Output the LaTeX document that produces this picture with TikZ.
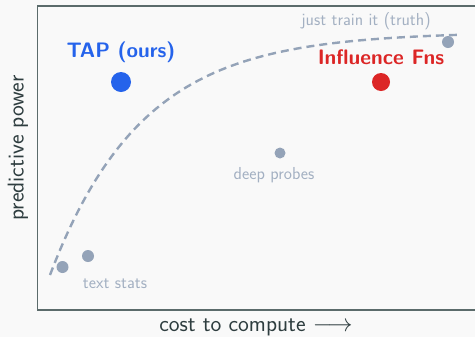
\documentclass[tikz,border=0pt]{standalone}
\usepackage{fontspec}
\usetikzlibrary{positioning}
\definecolor{bgcol}{HTML}{F9F9F9}
\definecolor{framecol}{HTML}{5B6B6B}
\definecolor{axiscol}{HTML}{2E3D3F}
\definecolor{dotgray}{HTML}{94A3B8}
\definecolor{labgray}{HTML}{A3B0C2}
\definecolor{tapblue}{HTML}{2563EB}
\definecolor{ifred}{HTML}{DC2626}
\tikzset{
  dot/.style={circle, inner sep=0pt, outer sep=0pt},
  graylabel/.style={text=labgray, font=\sffamily\fontsize{17.4}{20}\selectfont, inner sep=0pt},
  biglabel/.style={font=\sffamily\bfseries\fontsize{21}{24}\selectfont, inner sep=0pt},
  axislabel/.style={text=axiscol, font=\sffamily\fontsize{23}{26}\selectfont, inner sep=0pt},
}
\begin{document}
\begin{tikzpicture}[x=1bp, y=-1bp]
  % canvas
  \fill[bgcol] (0,0) rectangle (475,337);
  \useasboundingbox (0,0) rectangle (475,337);

  % plot frame (open on the right)
  \draw[framecol, line width=1.4bp] (475,6) -- (37.3,6) -- (37.3,310) -- (475,310);

  % saturating "cost vs. power" trend
  \draw[dotgray, line width=2.4bp, dash pattern=on 8bp off 5bp]
    plot[domain=50:457, samples=120, smooth] (\x, {32 + 243*exp(-(\x-50)/92)});

  % methods
  \node[dot, fill=tapblue, minimum size=20bp] (tap) at (121,82) {};
  \node[biglabel, text=tapblue] (taplab) at (121,52) {TAP (ours)};

  \node[dot, fill=ifred, minimum size=18bp] (inf) at (381,82) {};
  \node[biglabel, text=ifred] (inflab) at (381,57) {Influence Fns};

  \node[dot, fill=dotgray, minimum size=12bp] (truth) at (448,42) {};
  \node[graylabel] (truthlab) at (366,21) {just train it (truth)};

  \node[dot, fill=dotgray, minimum size=11bp] (deep) at (280,153) {};
  \node[graylabel] (deeplab) at (274,175) {deep probes};

  \node[dot, fill=dotgray, minimum size=12bp] (ts1) at (62.5,267) {};
  \node[dot, fill=dotgray, minimum size=12bp] (ts2) at (88,256) {};
  \node[graylabel] (tslab) at (115,284) {text stats};

  % axis titles
  \node[axislabel] (xlab) at (256,327) {cost to compute $\longrightarrow$};
  \node[axislabel, rotate=90] (ylab) at (18,148) {predictive power};
\end{tikzpicture}
\end{document}
